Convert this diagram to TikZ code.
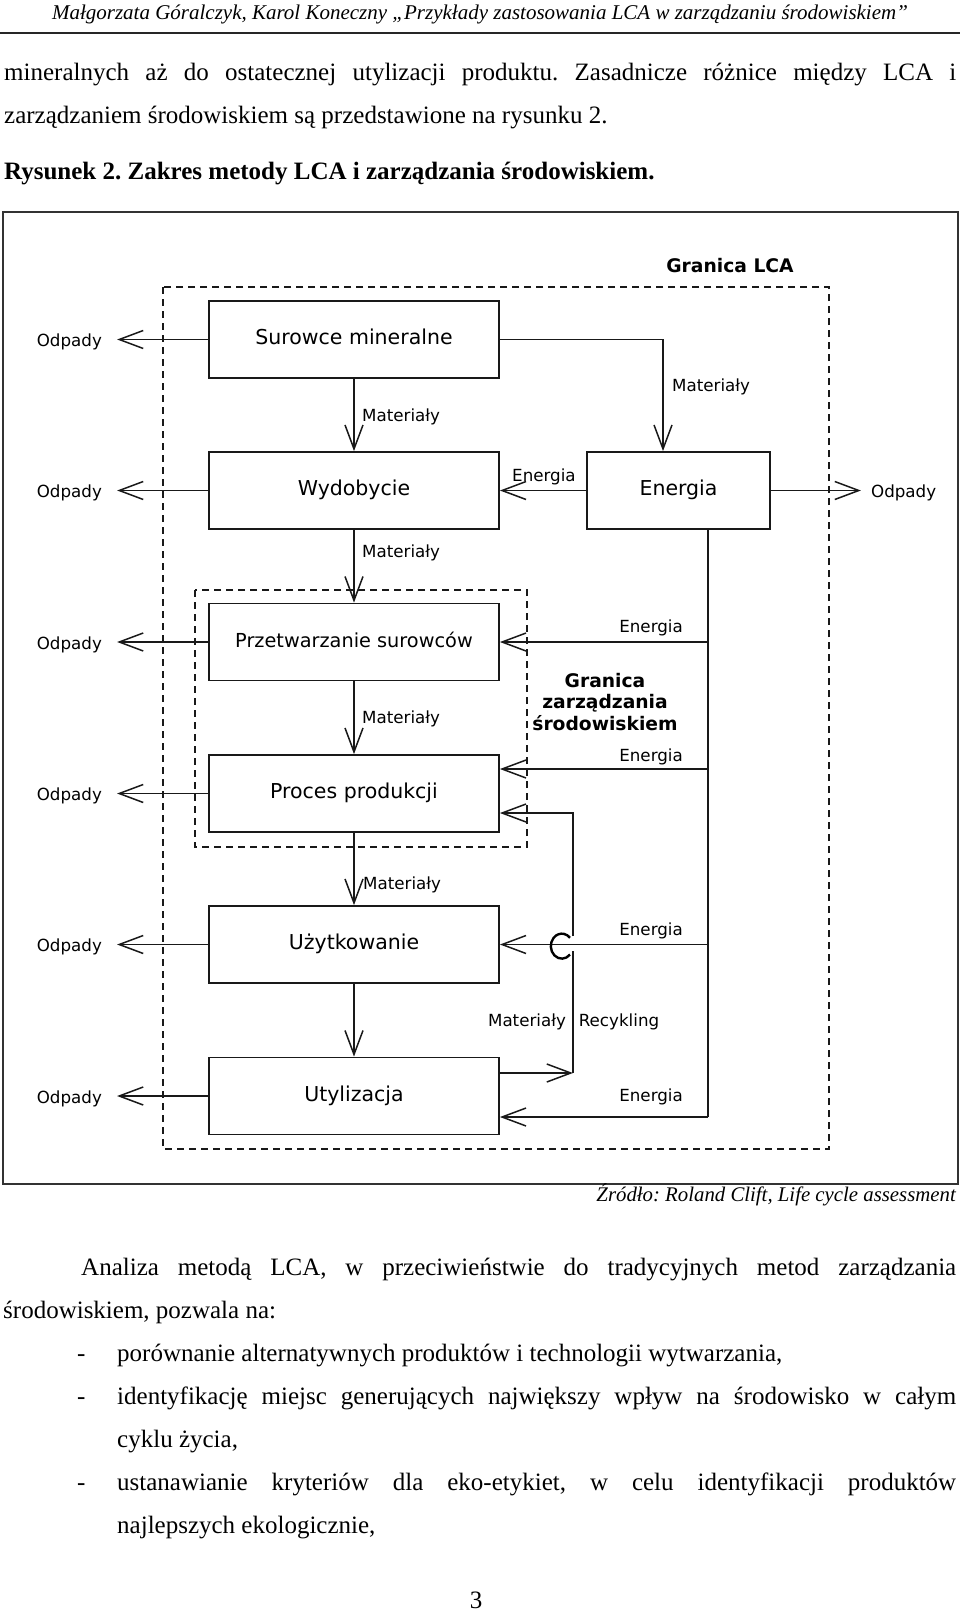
\documentclass[tikz,border=0pt]{standalone}
\usepackage{fontspec}
\setmainfont{Liberation Serif}
\newfontfamily\dv{DejaVu Sans}
\usetikzlibrary{arrows.meta}
\frenchspacing
\begin{document}
\begin{tikzpicture}[x=1pt,y=-1pt,
  box/.style={draw=black!90, line width=1.8pt, minimum width=290pt, minimum height=77pt, inner sep=0pt, text height=14.5pt, text depth=4.5pt, font=\dv\fontsize{20.5}{24}\selectfont},
  lbl/.style={inner sep=0pt, text height=12pt, text depth=3.5pt, font=\dv\fontsize{16.7}{19}\selectfont},
  ttl/.style={inner sep=0pt, font=\dv\bfseries\fontsize{18.7}{21.5}\selectfont, align=center},
  ln/.style={line width=1.5pt, draw=black!90},
  arr/.style={ln, -{Straight Barb[length=24pt,width=18pt,line width=1.5pt]}},
  bnd/.style={line width=1.5pt, draw=black!90, dash pattern=on 7pt off 5pt},
  body/.style={inner sep=0pt, anchor=base west, font=\fontsize{25}{30}\selectfont},
]
\useasboundingbox (0,0) rectangle (960,1613);
% page text
\node[anchor=base, inner sep=0pt, font=\itshape\fontsize{21}{24}\selectfont] (hdr) at (480,20) {Małgorzata Góralczyk, Karol Koneczny „Przykłady zastosowania LCA w zarządzaniu środowiskiem”};
\draw[line width=2.5pt, black!85] (0,33) -- (960,33);
\node[body] (l1) at (4,81) {\makebox[952pt][s]{mineralnych aż do ostatecznej utylizacji produktu. Zasadnicze różnice między LCA i}};
\node[body] (l2) at (4,124) {zarządzaniem środowiskiem są przedstawione na rysunku 2.};
\node[body, font=\bfseries\fontsize{25}{30}\selectfont] (cap) at (4,180) {Rysunek 2. Zakres metody LCA i zarządzania środowiskiem.};

% frame and boundaries
\draw[line width=2.2pt, draw=black!80] (3,212) rectangle (958,1184);
\draw[bnd] (163,287) rectangle (829,1149);
\draw[bnd] (195,590) rectangle (527,847);

% boxes
\node[box] (sur) at (354,339.5) {Surowce mineralne};
\node[box] (wyd) at (354,490.5) {Wydobycie};
\node[box, minimum width=183pt] (en) at (678.5,490.5) {Energia};
\node[box, font=\dv\fontsize{19.3}{24}\selectfont] (prz) at (354,642) {Przetwarzanie surowców};
\node[box] (pro) at (354,793.5) {Proces produkcji};
\node[box] (uzy) at (354,944.5) {Użytkowanie};
\node[box] (uty) at (354,1096) {Utylizacja};

% odpady
\foreach \b/\i in {sur/1,wyd/2,prz/3,pro/4,uzy/5,uty/6}{
  \coordinate (t\i) at ([xshift=-91pt]\b.west);
  \node[lbl,anchor=east] (o\i) at ([xshift=-15pt,yshift=-3pt]t\i) {Odpady};
  \draw[arr] (\b.west) -- (t\i);
}
\coordinate (tR) at ([xshift=90pt]en.east);
\node[lbl,anchor=west] (oR) at ([xshift=10pt,yshift=-3pt]tR) {Odpady};
\draw[arr] (en.east) -- (tR);

% material flow
\draw[arr] (sur.south) -- (wyd.north);
\draw[arr] (wyd.south) -- (prz.north);
\draw[arr] (prz.south) -- (pro.north);
\draw[arr] (pro.south) -- (uzy.north);
\draw[arr] (uzy.south) -- (uty.north);
\node[lbl,anchor=west] (m1) at (362,417) {Materiały};
\node[lbl,anchor=west] (m2) at (362,553) {Materiały};
\node[lbl,anchor=west] (m3) at (362,719) {Materiały};
\node[lbl,anchor=west] (m4) at (363,885) {Materiały};
\draw[arr] (sur.east) -| ([xshift=-15.5pt]en.north);
\node[lbl,anchor=west] (m5) at (672,387) {Materiały};

% energy
\draw[arr] (en.west) -- (wyd.east);
\node[lbl,anchor=west] (e0) at (512,477) {Energia};
\coordinate (T0) at ([xshift=29.5pt]en.south);
\coordinate (T4) at (708,1117);
\draw[ln] (T0) -- (T4);
\coordinate (p1) at ([yshift=24.5pt]pro.east);
\draw[arr] (T0 |- prz.east) -- (prz.east);
\draw[arr] (T0 |- p1) -- (p1);
\draw[arr] (T0 |- uzy.east) -- (uzy.east);
\draw[arr] (T4) -- (T4 -| uty.east);
\node[lbl,anchor=east] (e1) at (683,628) {Energia};
\node[lbl,anchor=east] (e2) at (683,757) {Energia};
\node[lbl,anchor=east] (e3) at (683,931) {Energia};
\node[lbl,anchor=east] (e4) at (683,1097) {Energia};

% recycling
\coordinate (r1) at ([yshift=23pt]uty.east);
\coordinate (rc) at ([xshift=73pt]r1);
\coordinate (p2) at ([yshift=-19.5pt]pro.east);
\coordinate (h1) at ([yshift=122pt]rc);
\coordinate (h2) at ([yshift=137pt]rc);
\draw[arr] (r1) -- (rc);
\draw[ln] (rc) -- (h1);
\draw[line width=2.4pt] (570,954.5) arc[start angle=318, end angle=42, x radius=11pt, y radius=12.5pt];
\draw[arr] (h2) -- (rc |- p2) -- (p2);
\node[lbl] (m6) at (527,1022) {Materiały};
\node[lbl] (rk) at (619,1022) {Recykling};

% titles
\node[ttl] (gl) at (730,266) {Granica LCA};
\node[ttl] (gz) at (605,702) {Granica\\zarządzania\\środowiskiem};

% source and body text
\node[anchor=base east, inner sep=0pt, font=\itshape\fontsize{20.8}{24}\selectfont] (src) at (956,1201) {Źródło: Roland Clift, Life cycle assessment};
\node[body] (b1) at (81,1275) {\makebox[875pt][s]{Analiza metodą LCA, w przeciwieństwie do tradycyjnych metod zarządzania}};
\node[body] (b2) at (3,1318) {środowiskiem, pozwala na:};
\node[body] (d1) at (77,1361) {-};
\node[body] (b3) at (117,1361) {porównanie alternatywnych produktów i technologii wytwarzania,};
\node[body] (d2) at (77,1404) {-};
\node[body] (b4) at (117,1404) {\makebox[839pt][s]{identyfikację miejsc generujących największy wpływ na środowisko w całym}};
\node[body] (b5) at (117,1447) {cyklu życia,};
\node[body] (d3) at (77,1490) {-};
\node[body] (b6) at (117,1490) {\makebox[839pt][s]{ustanawianie kryteriów dla eko-etykiet, w celu identyfikacji produktów}};
\node[body] (b7) at (117,1533) {najlepszych ekologicznie,};
\node[body, anchor=base] (pg) at (476,1608) {3};
\end{tikzpicture}
\end{document}
